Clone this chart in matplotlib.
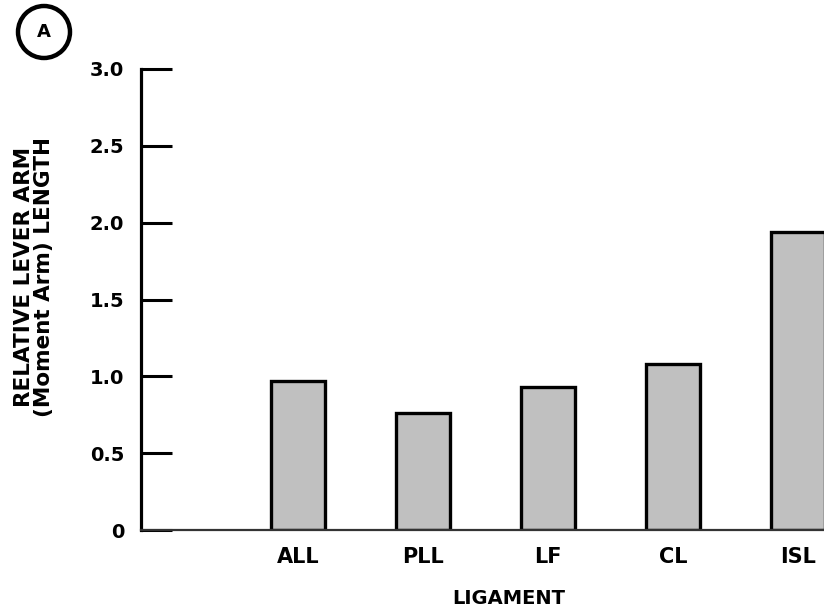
import matplotlib
matplotlib.use("Agg")
import matplotlib.pyplot as plt
from matplotlib.patches import Ellipse

# data
ligaments = ["ALL", "PLL", "LF", "CL", "ISL"]
lever_arm = [0.97, 0.76, 0.93, 1.08, 1.94]
yticks = [0, 0.5, 1.0, 1.5, 2.0, 2.5, 3.0]
ytick_labels = ["0", "0.5", "1.0", "1.5", "2.0", "2.5", "3.0"]

plt.rcParams['font.family'] = ['DejaVu Sans']
plt.rcParams['font.weight'] = 'bold'

fig = plt.figure(figsize=(8.24, 6.12), dpi=100)
ax = fig.add_axes([141/824, 1 - 530/612, 1 - 141/824, (530 - 69)/612])

pos = list(range(1, len(ligaments) + 1))
ax.bar(pos, lever_arm, width=0.43, color='#c0c0c0', edgecolor='black',
       linewidth=2.4, zorder=2)

ax.set_xlim(-0.26, 5.21)
ax.set_ylim(0, 3.0)

ax.spines['top'].set_visible(False)
ax.spines['right'].set_visible(False)
ax.spines['left'].set_linewidth(2.3)
ax.spines['bottom'].set_linewidth(1.6)
ax.spines['bottom'].set_color('#333333')

ax.set_yticks(yticks)
ax.set_yticklabels(ytick_labels, fontsize=14, fontweight='bold')
ax.tick_params(axis='y', direction='in', length=22, width=2.2, pad=12)

ax.set_xticks(pos)
ax.set_xticklabels(ligaments, fontsize=15, fontweight='bold')
ax.tick_params(axis='x', length=0, pad=12)

fig.text(509/824, 1 - 598/612, "LIGAMENT", ha='center', va='center',
         fontsize=14, fontweight='bold')
fig.text(34/824, 1 - 277/612, "RELATIVE LEVER ARM\n(Moment Arm) LENGTH",
         rotation=90, ha='center', va='center', multialignment='center',
         fontsize=15.5, fontweight='bold', linespacing=1.05)

# circled panel letter
fig.add_artist(Ellipse((44/824, 1 - 32/612), 52/824, 52/612,
                       transform=fig.transFigure, fill=False,
                       edgecolor='black', linewidth=3.2))
fig.text(44/824, 1 - 32/612, "A", ha='center', va='center',
         fontsize=13, fontweight='bold')

fig.savefig("out.png", dpi=100)
